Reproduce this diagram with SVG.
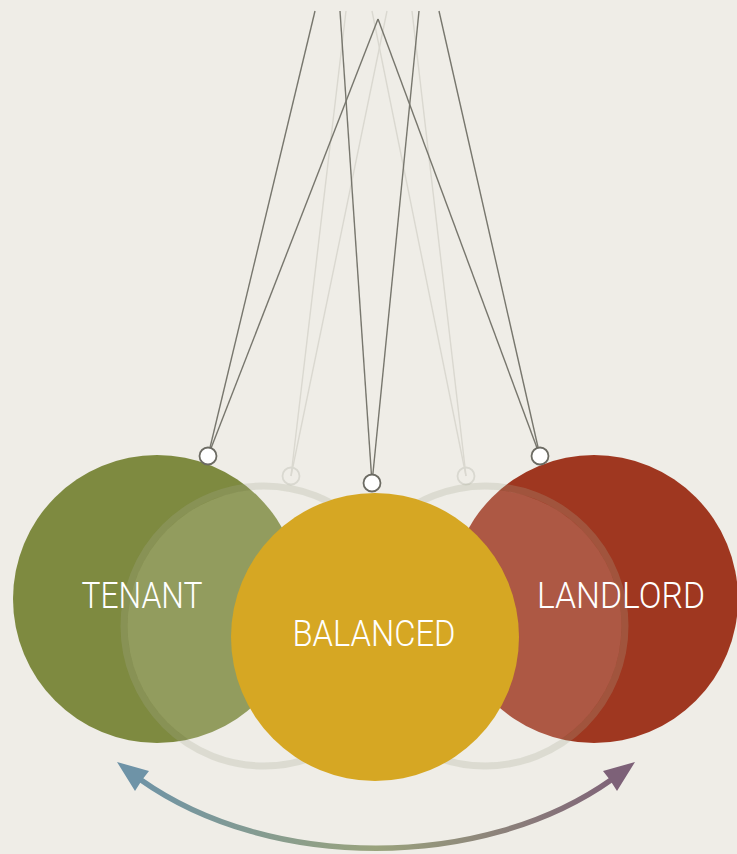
<svg xmlns="http://www.w3.org/2000/svg" width="737" height="854" viewBox="0 0 737 854">
<defs>
<style>
.str{stroke:#77766d;stroke-width:1.4;fill:none}
.gstr{stroke:#dad8d0;stroke-width:1.4;fill:none}
.knob{fill:#ffffff;stroke:#6c6b63;stroke-width:1.8}
.gknob{fill:none;stroke:#d9d8d0;stroke-width:1.8}
.ghost{fill:#efede7;fill-opacity:0.18}
.gring{fill:none;stroke:#a8ab94;stroke-opacity:0.26;stroke-width:7}
.lbl{font-family:Roboto,"Liberation Sans",sans-serif;font-weight:300;font-size:37px;fill:#ffffff;text-anchor:middle}
</style>
<linearGradient id="arrowGrad" gradientUnits="userSpaceOnUse" x1="117" y1="0" x2="635" y2="0">
<stop offset="0" stop-color="#6b92a9"/>
<stop offset="0.5" stop-color="#9aa37d"/>
<stop offset="1" stop-color="#7d5e78"/>
</linearGradient>
</defs>
<rect width="737" height="854" fill="#efede7"/>
<g id="connectors">
<g id="ghost-strings">
<line class="gstr" x1="346" y1="11" x2="291" y2="476"/>
<line class="gstr" x1="387" y1="11" x2="291" y2="476"/>
<line class="gstr" x1="372" y1="11" x2="466" y2="476"/>
<line class="gstr" x1="412" y1="11" x2="466" y2="476"/>
</g>
<g id="strings">
<line class="str" x1="315" y1="11" x2="208" y2="456"/>
<line class="str" x1="378" y1="19" x2="208" y2="456"/>
<line class="str" x1="340" y1="11" x2="372" y2="483"/>
<line class="str" x1="419" y1="11" x2="372" y2="483"/>
<line class="str" x1="439" y1="11" x2="540" y2="456"/>
<line class="str" x1="378" y1="19" x2="540" y2="456"/>
</g>
</g>
<g id="ghost-knobs">
<circle class="gknob" cx="291" cy="476" r="8.5"/>
<circle class="gknob" cx="466" cy="476" r="8.5"/>
</g>
<g id="tenant">
<circle cx="157" cy="599" r="144" fill="#7e8a40"/>
<circle class="knob" cx="208" cy="456" r="8.5"/>
</g>
<g id="landlord">
<circle cx="594" cy="599" r="144" fill="#9f3720"/>
<circle class="knob" cx="540" cy="456" r="8.5"/>
</g>
<g id="ghost-left">
<circle class="ghost" cx="264" cy="626" r="136.5"/>
<circle class="gring" cx="264" cy="626" r="140"/>
</g>
<g id="ghost-right">
<circle class="ghost" cx="485" cy="626" r="136.5"/>
<circle class="gring" cx="485" cy="626" r="140"/>
</g>
<g id="balanced">
<circle cx="375" cy="637" r="144" fill="#d6a723"/>
<circle class="knob" cx="372" cy="483" r="8.5"/>
<text class="lbl" x="374" y="646" textLength="163" lengthAdjust="spacingAndGlyphs">BALANCED</text>
</g>
<g id="tenant-label">
<text class="lbl" x="142" y="608" textLength="121" lengthAdjust="spacingAndGlyphs">TENANT</text>
</g>
<g id="landlord-label">
<text class="lbl" x="621" y="608" textLength="168" lengthAdjust="spacingAndGlyphs">LANDLORD</text>
</g>
<g id="swing-arrow">
<path d="M141,780 C270,871 482,871 611,780" fill="none" stroke="url(#arrowGrad)" stroke-width="5.5"/>
<polygon points="117,762 149,771 142,780 135,791" fill="#6e93a7"/>
<polygon points="635,762 603,771 610,780 617,791" fill="#7d6178"/>
</g>
</svg>
